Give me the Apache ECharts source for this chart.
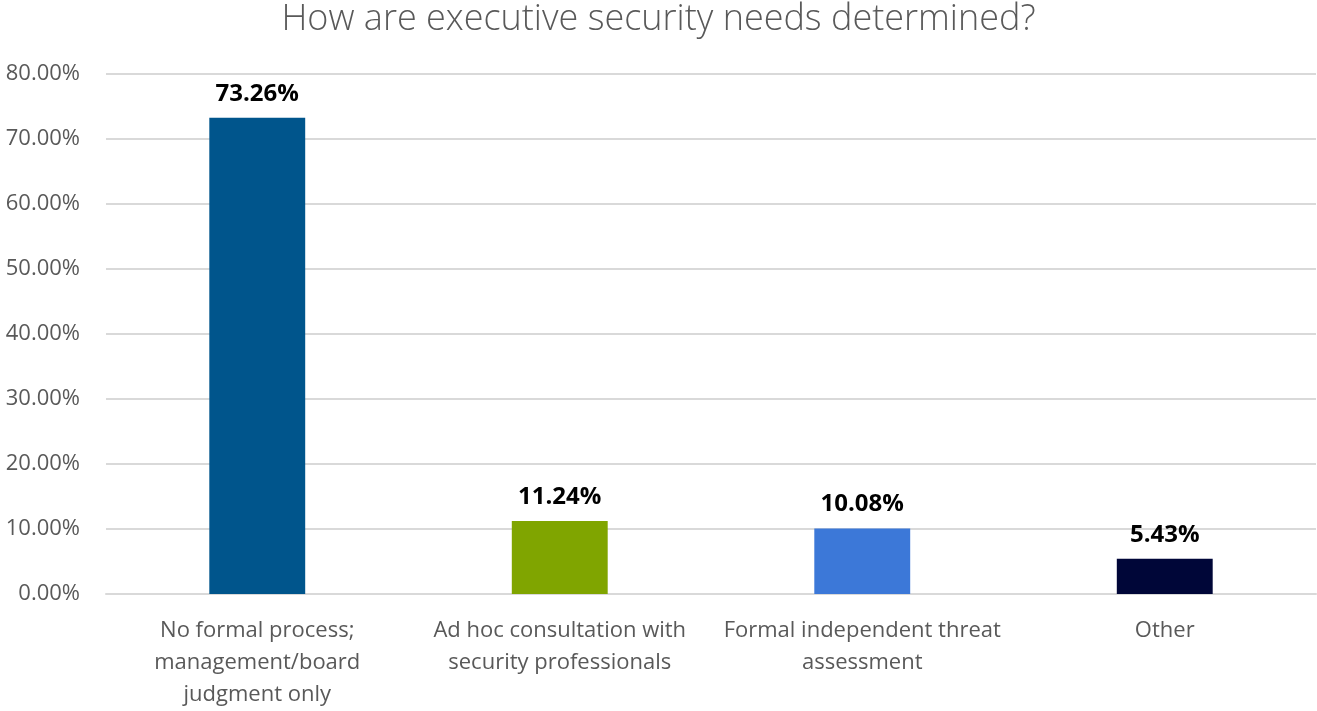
<!DOCTYPE html>
<html>
<head>
<meta charset="utf-8">
<script src="https://cdn.jsdelivr.net/npm/echarts@6/dist/echarts.min.js"></script>
<style>
  html, body { margin: 0; padding: 0; background: #ffffff; }
  #chart { width: 1317px; height: 711px; }
</style>
</head>
<body>
<div id="chart"></div>
<script>
// Survey responses: how executive security needs are determined
const categories = [
  'No formal process;\nmanagement/board\njudgment only',
  'Ad hoc consultation with\nsecurity professionals',
  'Formal independent threat\nassessment',
  'Other'
];
const shares = [73.26, 11.24, 10.08, 5.43];
const barColors = ['#00558C', '#80A500', '#3C78D8', '#000638'];
const yTicks = { min: 0, max: 80, interval: 10 };

const chart = echarts.init(document.getElementById('chart'), null, { renderer: 'canvas' });

chart.setOption({
  animation: false,
  backgroundColor: '#ffffff',
  textStyle: { fontFamily: 'Open Sans, Noto Sans, sans-serif' },
  title: {
    text: 'How are executive security needs determined?',
    left: 'center',
    top: -3,
    textStyle: {
      fontSize: 36,
      fontWeight: 300,
      color: '#595959',
      fontFamily: 'Open Sans, Noto Sans, sans-serif'
    }
  },
  grid: { left: 106, right: 1, top: 74, bottom: 114, containLabel: false },
  xAxis: {
    type: 'category',
    data: categories,
    axisLine: { show: true, lineStyle: { color: '#d9d9d9', width: 2 } },
    axisTick: { show: false },
    axisLabel: {
      interval: 0,
      color: '#595959',
      fontSize: 22,
      lineHeight: 32,
      margin: 21
    }
  },
  yAxis: {
    type: 'value',
    min: yTicks.min,
    max: yTicks.max,
    interval: yTicks.interval,
    axisLine: { show: false },
    axisTick: { show: false },
    splitLine: { lineStyle: { color: '#d9d9d9', width: 2 } },
    axisLabel: {
      color: '#595959',
      fontSize: 22,
      margin: 26,
      formatter: v => v.toFixed(2) + '%'
    }
  },
  series: [{
    type: 'bar',
    data: shares.map((v, i) => ({ value: v, itemStyle: { color: barColors[i] } })),
    barWidth: '31.7%',
    label: {
      show: true,
      position: 'top',
      distance: 12,
      color: '#000000',
      fontSize: 24,
      fontWeight: 'bold',
      formatter: p => p.value.toFixed(2) + '%'
    }
  }]
});
</script>
</body>
</html>
